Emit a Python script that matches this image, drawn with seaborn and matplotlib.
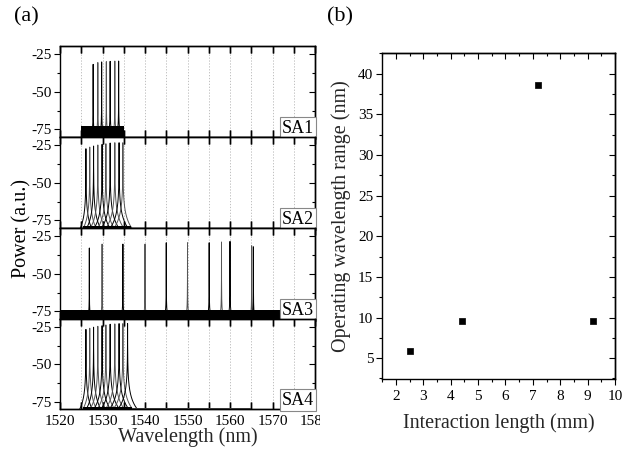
import numpy as np
import pandas as pd
import matplotlib
matplotlib.use("Agg")
import matplotlib.pyplot as plt
from matplotlib.ticker import MultipleLocator, FixedLocator, NullFormatter
from matplotlib.transforms import Bbox, TransformedBbox
import seaborn as sns

# ---------------- data ----------------
panel_names = ["SA1", "SA2", "SA3", "SA4"]

sa1_peak_nm = [1527.8, 1528.9, 1529.8, 1530.9, 1531.8, 1532.9, 1533.8]
sa1_peak_db = [-31.7, -30.5, -30.1, -29.9, -29.7, -29.5, -29.5]
sa2_peak_nm = [1526.1, 1527.0, 1527.9, 1528.9, 1529.9, 1530.8, 1531.8, 1532.9, 1533.9, 1534.8]
sa2_peak_db = [-27.3, -26.2, -25.5, -24.8, -24.4, -24.0, -23.5, -23.3, -23.3, -23.3]
sa3_peak_nm = [1526.9, 1529.9, 1534.8, 1540.0, 1545.0, 1550.0, 1555.1, 1558.0, 1560.0, 1565.1, 1565.5]
sa3_peak_db = [-32.8, -30.2, -30.2, -30.2, -29.3, -29.3, -29.3, -28.8, -28.4, -31.3, -32.0]
sa4_peak_nm = [1526.1, 1527.0, 1527.9, 1528.9, 1529.9, 1530.8, 1531.8, 1532.9, 1533.9, 1534.8, 1535.9]
sa4_peak_db = [-26.5, -25.7, -25.0, -24.4, -24.0, -23.5, -23.0, -22.8, -22.6, -22.6, -22.6]

# noise-floor bands: start nm, end nm, low dB, high dB
sa1_floor = [1525.0, 1535.0, -80.0, -73.0]
sa2_floor = [1525.5, 1536.8, -80.0, -78.5]
sa3_floor = [1520.0, 1572.0, -80.0, -74.0]
sa4_floor = [1525.5, 1537.0, -80.0, -78.5]
sa4_tail = [1537.0, 1565.0, -80.0, -79.0]

# panel (b)
interaction_mm = [2.5, 4.4, 7.2, 9.2]
range_nm = [5.9, 9.6, 38.6, 9.6]

x_ticks_a = [1520, 1530, 1540, 1550, 1560, 1570, 1580]
x_ticklabels_a = ["1520", "1530", "1540", "1550", "1560", "1570", "1580"]

# ---------------- style ----------------
sns.set_theme(style="ticks")
plt.rcParams["font.family"] = ["Liberation Serif", "DejaVu Serif"]
plt.rcParams["axes.linewidth"] = 1.0
plt.rcParams["axes.edgecolor"] = "black"
plt.rcParams["axes.axisbelow"] = False
plt.rcParams["xtick.color"] = "black"
plt.rcParams["ytick.color"] = "black"
plt.rcParams["text.color"] = "black"

fig = plt.figure(figsize=(6.32, 4.53), dpi=100)

W, H = 632.0, 453.0
left_px, right_px = 60, 315
tops = [46, 137, 228, 319]
bottoms = [137, 228, 319, 409]

# (peaks nm, peaks dB, half width, base level, half span of drawn trace)
peaks = [(sa1_peak_nm, sa1_peak_db, 0.0008, -76.0, 0.6),
         (sa2_peak_nm, sa2_peak_db, 0.003, -95.0, 2.5),
         (sa3_peak_nm, sa3_peak_db, 0.0007, -77.0, 0.6),
         (sa4_peak_nm, sa4_peak_db, 0.003, -95.0, 2.5)]
floors = [sa1_floor, sa2_floor, sa3_floor, sa4_floor]

YLIM = (-80.0, -19.5)
TL = 11
axes_a = []
for i in range(4):
    ax = fig.add_axes([left_px / W, 1 - bottoms[i] / H,
                       (right_px - left_px) / W, (bottoms[i] - tops[i]) / H])
    axes_a.append(ax)
    pk_nm, pk_db, gam, base, span = peaks[i]
    fl = floors[i]
    for gx in np.arange(1525, 1580, 5):
        ax.axvline(gx, color="#b5b5b5", ls=(0, (1.5, 2)), lw=0.6, zorder=1)
    for j, (c, p) in enumerate(zip(pk_nm, pk_db)):
        xs = np.linspace(c - span, c + span, 4001)
        ys = 10 * np.log10(10 ** (base / 10) + 10 ** (p / 10) / (1 + ((xs - c) / gam) ** 2))
        df = pd.DataFrame({"nm": xs, "dB": ys})
        sns.lineplot(data=df, x="nm", y="dB", ax=ax, estimator=None, sort=False,
                     color=("black" if j % 2 == 0 else "#555555"), lw=0.7, zorder=3)
    ax.fill_between([fl[0], fl[1]], [fl[2], fl[2]], [fl[3], fl[3]],
                    color="black", lw=0, zorder=4)
    if i == 3:
        ax.fill_between([sa4_tail[0], sa4_tail[1]], [sa4_tail[2]] * 2, [sa4_tail[3]] * 2,
                        color="#444444", lw=0, zorder=4)

    ax.set_xlim(1520, 1580)
    ax.set_ylim(*YLIM)
    ax.grid(False)
    ax.xaxis.set_major_locator(FixedLocator(x_ticks_a))
    ax.xaxis.set_minor_locator(MultipleLocator(5))
    ax.set_yticks([-25, -50, -75])
    ax.set_yticklabels(["-25", "-50", "-75"])
    ax.yaxis.set_minor_locator(FixedLocator([-37.5, -62.5]))
    ax.tick_params(axis="x", which="both", direction="in", top=True, bottom=True,
                   labelbottom=(i == 3), length=5, width=1.0, color="black")
    ax.tick_params(axis="y", which="major", direction="out", length=4, width=0.8,
                   labelsize=TL, pad=2)
    ax.tick_params(axis="y", which="minor", direction="out", length=2.5, width=0.8)
    ax.set_xlabel("")
    ax.set_ylabel("")
    ax.text(0.997, 0.005, panel_names[i], transform=ax.transAxes, ha="right", va="bottom",
            fontsize=13, zorder=10,
            bbox=dict(boxstyle="square,pad=0.12", fc="white", ec="#888888", lw=0.8))
    for sp in ax.spines.values():
        sp.set_zorder(6)

ax4 = axes_a[3]
ax4.set_xticklabels(x_ticklabels_a)
ax4.tick_params(axis="x", labelsize=TL, pad=4)
ax4.set_xlabel("Wavelength (nm)", fontsize=14.5, labelpad=0)
clip = TransformedBbox(Bbox([[0, 0], [319.5 / W, 1]]), fig.transFigure)
for t in ax4.xaxis.get_major_ticks():
    t.label1.set_clip_on(True)
    t.label1.set_clip_box(clip)

# mirrored inward ticks for the spectra panels
for ax in axes_a:
    sec = ax.secondary_yaxis("right")
    sec.set_yticks([-25, -50, -75])
    sec.yaxis.set_minor_locator(FixedLocator([-37.5, -62.5]))
    sec.tick_params(axis="y", which="major", direction="in", length=4, width=0.8, labelright=False)
    sec.tick_params(axis="y", which="minor", direction="in", length=2.5, width=0.8)
    sec.spines["right"].set_linewidth(1.0)
    for loc in ("top", "bottom"):
        sxa = ax.secondary_xaxis(loc)
        sxa.set_xticks(x_ticks_a)
        sxa.xaxis.set_minor_locator(MultipleLocator(5))
        sxa.xaxis.set_major_formatter(NullFormatter())
        sxa.tick_params(axis="x", which="both", direction="in", length=5, width=1.0,
                        labeltop=False, labelbottom=False)
        sxa.spines[loc].set_linewidth(1.0)

fig.text(22 / W, 1 - 228 / H, "Power (a.u.)", rotation=90, ha="center", va="center", fontsize=14.5)
fig.text(26 / W, 1 - 17 / H, "(a)", ha="center", va="center", fontsize=16)
fig.text(340 / W, 1 - 17 / H, "(b)", ha="center", va="center", fontsize=16)

# ---------------- panel (b) ----------------
axb = fig.add_axes([381.7 / W, 1 - 379.3 / H, (615 - 381.7) / W, (379.3 - 53.3) / H])
dfb = pd.DataFrame({"mm": interaction_mm, "nm": range_nm})
sns.scatterplot(data=dfb, x="mm", y="nm", ax=axb, marker="s", s=22, color="black",
                edgecolor="black", linewidth=0.5, zorder=5)
axb.set_xlim(1.48, 10)
axb.set_ylim(2.4, 42.5)
axb.set_xticks([2, 3, 4, 5, 6, 7, 8, 9, 10])
axb.set_yticks([5, 10, 15, 20, 25, 30, 35, 40])
axb.xaxis.set_minor_locator(MultipleLocator(0.5))
axb.yaxis.set_minor_locator(MultipleLocator(2.5))
axb.tick_params(axis="both", which="major", direction="out", length=4, width=0.8, labelsize=TL, pad=2)
axb.tick_params(axis="both", which="minor", direction="out", length=2.5, width=0.8)
axb.tick_params(axis="x", pad=4)
sx = axb.secondary_xaxis("top")
sx.set_xticks([2, 3, 4, 5, 6, 7, 8, 9, 10])
sx.xaxis.set_minor_locator(MultipleLocator(0.5))
sx.tick_params(axis="x", which="major", direction="in", length=4, width=0.8, labeltop=False)
sx.tick_params(axis="x", which="minor", direction="in", length=2.5, width=0.8)
sy = axb.secondary_yaxis("right")
sy.set_yticks([5, 10, 15, 20, 25, 30, 35, 40])
sy.yaxis.set_minor_locator(MultipleLocator(2.5))
sy.tick_params(axis="y", which="major", direction="in", length=4, width=0.8, labelright=False)
sy.tick_params(axis="y", which="minor", direction="in", length=2.5, width=0.8)
axb.set_xlabel("Interaction length (mm)", fontsize=14.5, labelpad=7)
axb.set_ylabel("Operating wavelength range (nm)", fontsize=14.5, labelpad=5)

fig.savefig("out.png", dpi=100)
